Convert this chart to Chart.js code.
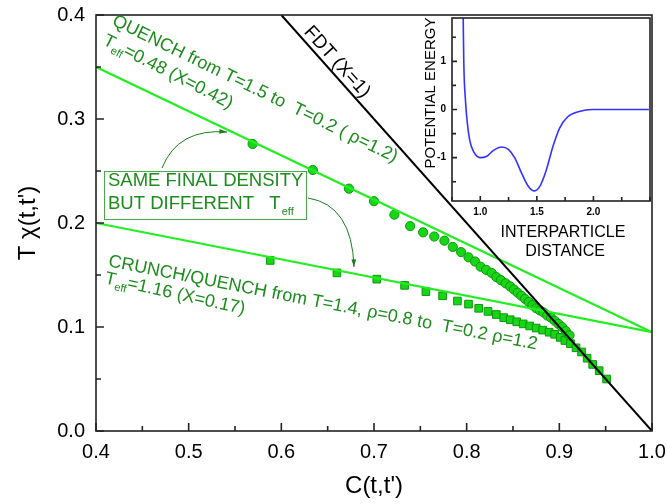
<!DOCTYPE html>
<html>
<head>
<meta charset="utf-8">
<script src="https://cdn.jsdelivr.net/npm/chart.js@4.4.0/dist/chart.umd.min.js"></script>
<style>
    html, body { margin: 0; padding: 0; background: #fff; }
    #wrap { position: relative; width: 668px; height: 504px; }
    #mainChart { position: absolute; left: 0; top: 0; }
    #insetChart { position: absolute; left: 410px; top: 0; }
</style>
</head>
<body>
<div id="wrap">
    <canvas id="mainChart" width="668" height="504"></canvas>
    <canvas id="insetChart" width="258" height="264"></canvas>
</div>
<script>
// quench T=1.5 -> T=0.2 (circles)
const quenchC = [0.569, 0.634, 0.673, 0.700, 0.722, 0.739, 0.753, 0.765, 0.776, 0.785, 0.794, 0.802,
    0.809, 0.815, 0.821, 0.827, 0.832, 0.837, 0.842, 0.847, 0.851, 0.855, 0.859, 0.863, 0.867, 0.871,
    0.875, 0.879, 0.883, 0.887, 0.891, 0.895, 0.899, 0.903, 0.907, 0.911];
const quenchT = [0.276, 0.251, 0.233, 0.221, 0.208, 0.197, 0.191, 0.187, 0.183, 0.177, 0.172, 0.167,
    0.163, 0.158, 0.155, 0.152, 0.148, 0.145, 0.142, 0.139, 0.136, 0.133, 0.130, 0.127, 0.124, 0.121,
    0.118, 0.116, 0.114, 0.111, 0.109, 0.106, 0.103, 0.100, 0.096, 0.092];

// crunch/quench (squares)
const crunchC = [0.588, 0.660, 0.703, 0.733, 0.756, 0.774, 0.790, 0.802, 0.813, 0.823, 0.832, 0.840,
    0.847, 0.854, 0.861, 0.868, 0.875, 0.882, 0.889, 0.895, 0.901, 0.906, 0.912, 0.918, 0.924, 0.930,
    0.936, 0.943, 0.951];
const crunchT = [0.164, 0.152, 0.146, 0.140, 0.134, 0.130, 0.125, 0.122, 0.118, 0.115, 0.112, 0.109,
    0.107, 0.105, 0.103, 0.101, 0.099, 0.097, 0.095, 0.093, 0.090, 0.087, 0.084, 0.080, 0.076, 0.070,
    0.064, 0.058, 0.050];

// straight lines
const fitQuenchC = [0.4, 1.0];
const fitQuenchT = [0.35, 0.095];
const fitCrunchC = [0.4, 1.0];
const fitCrunchT = [0.2, 0.095];
const fdtC = [0.6, 1.0];
const fdtT = [0.4, 0.0];

const xTicks = [0.4, 0.5, 0.6, 0.7, 0.8, 0.9, 1.0];
const yTicks = [0.0, 0.1, 0.2, 0.3, 0.4];

// inset: pair potential
const distance = [0.849, 0.854, 0.869, 0.883, 0.907, 0.942, 1.0, 1.058, 1.117, 1.19, 1.248, 1.306,
    1.365, 1.423, 1.472, 1.525, 1.583, 1.642, 1.70, 1.773, 1.875, 1.99, 2.49];
const energy = [1.92, 1.0, 0.19, -0.22, -0.64, -0.88, -1.0, -0.97, -0.85, -0.78, -0.83, -1.01,
    -1.32, -1.59, -1.69, -1.60, -1.26, -0.77, -0.39, -0.15, -0.04, 0.0, 0.0];
const insetXTicks = [1.0, 1.5, 2.0];
const insetYTicks = [-1, 0, 1];

const FONT = '"Liberation Sans", Arial, sans-serif';
const TEXT_GREEN = '#1c8c1c';

function pts(xs, ys) {
    return xs.map((x, i) => ({ x: x, y: ys[i] }));
}

// 去掉刻度标签溢出带来的额外边距
function noPad(s) {
    s.paddingTop = 0; s.paddingBottom = 0;
    s.paddingLeft = 0; s.paddingRight = 0;
}

// 内向刻度 + 边框
function frameTicks(majorLen, minorLen, lw) {
    return {
        id: 'frameTicks',
        afterDraw(chart) {
            const { ctx, chartArea: a, scales } = chart;
            ctx.save();
            ctx.strokeStyle = '#222';
            ctx.lineWidth = lw;
            ctx.strokeRect(a.left, a.top, a.right - a.left, a.bottom - a.top);
            ctx.beginPath();
            const xs = scales.x, ys = scales.y;
            const xv = xs.ticks.map(t => t.value);
            const yv = ys.ticks.map(t => t.value);
            const xStep = xv[1] - xv[0], yStep = yv[1] - yv[0];
            const x0 = xv[0] - Math.floor((xv[0] - xs.min) / (xStep / 2) + 1e-6) * xStep / 2;
            const y0 = yv[0] - Math.floor((yv[0] - ys.min) / (yStep / 2) + 1e-6) * yStep / 2;
            for (let v = x0; v <= xs.max + 1e-9; v += xStep / 2) {
                const isMajor = xv.some(m => Math.abs(m - v) < 1e-6);
                const px = xs.getPixelForValue(v);
                ctx.moveTo(px, a.bottom);
                ctx.lineTo(px, a.bottom - (isMajor ? majorLen : minorLen));
            }
            for (let v = y0; v <= ys.max + 1e-9; v += yStep / 2) {
                const isMajor = yv.some(m => Math.abs(m - v) < 1e-6);
                const py = ys.getPixelForValue(v);
                ctx.moveTo(a.left, py);
                ctx.lineTo(a.left + (isMajor ? majorLen : minorLen), py);
            }
            ctx.stroke();
            ctx.restore();
        }
    };
}

function richText(ctx, parts, size) {
    const big = size + 'px ' + FONT;
    const small = Math.round(size * 0.62) + 'px ' + FONT;
    let w = 0;
    parts.forEach(([t, sub]) => { ctx.font = sub ? small : big; w += ctx.measureText(t).width; });
    let x = -w / 2;
    parts.forEach(([t, sub]) => {
        ctx.font = sub ? small : big;
        ctx.fillText(t, x, sub ? size * 0.35 : 0);
        x += ctx.measureText(t).width;
    });
}

function arrow(ctx, x0, y0, cx, cy, x1, y1) {
    ctx.beginPath();
    ctx.moveTo(x0, y0);
    ctx.quadraticCurveTo(cx, cy, x1, y1);
    ctx.stroke();
    const ang = Math.atan2(y1 - cy, x1 - cx);
    ctx.beginPath();
    ctx.moveTo(x1, y1);
    ctx.lineTo(x1 - 8 * Math.cos(ang - 0.3), y1 - 8 * Math.sin(ang - 0.3));
    ctx.lineTo(x1 - 8 * Math.cos(ang + 0.3), y1 - 8 * Math.sin(ang + 0.3));
    ctx.closePath();
    ctx.fill();
}

const notes = [
    { parts: [['QUENCH from T=1.5 to  T=0.2 ( \u03c1=1.2)', false]], x: 255, y: 89, rot: 26, size: 18, color: TEXT_GREEN },
    { parts: [['T', false], ['eff', true], ['=0.48 (X=0.42)', false]], x: 168, y: 72, rot: 27, size: 18, color: TEXT_GREEN },
    { parts: [['CRUNCH/QUENCH from T=1.4, \u03c1=0.8 to  T=0.2 \u03c1=1.2', false]], x: 323, y: 303, rot: 11, size: 18, color: TEXT_GREEN },
    { parts: [['T', false], ['eff', true], ['=1.16 (X=0.17)', false]], x: 175, y: 294, rot: 12.5, size: 18, color: TEXT_GREEN },
    { parts: [['FDT (X=1)', false]], x: 337, y: 62, rot: 48, size: 19, color: '#000' }
];

const annotations = {
    id: 'annotations',
    afterDraw(chart) {
        const ctx = chart.ctx;
        ctx.save();
        ctx.textBaseline = 'middle';
        notes.forEach(n => {
            ctx.save();
            ctx.translate(n.x, n.y);
            ctx.rotate(n.rot * Math.PI / 180);
            ctx.fillStyle = n.color;
            richText(ctx, n.parts, n.size);
            ctx.restore();
        });
        // 方框
        ctx.strokeStyle = '#4aa84a';
        ctx.lineWidth = 1;
        ctx.strokeRect(104.5, 171.5, 202, 48);
        ctx.fillStyle = TEXT_GREEN;
        ctx.textBaseline = 'alphabetic';
        ctx.textAlign = 'left';
        ctx.font = '18.5px ' + FONT;
        ctx.fillText('SAME FINAL DENSITY', 108, 186);
        const line2 = 'BUT DIFFERENT   T';
        ctx.fillText(line2, 108, 209);
        const w2 = ctx.measureText(line2).width;
        ctx.font = '11px ' + FONT;
        ctx.fillText('eff', 108 + w2 + 1, 215);
        // 箭头
        ctx.strokeStyle = '#1c7c1c';
        ctx.fillStyle = '#1c7c1c';
        arrow(ctx, 162, 168, 178, 128, 227, 132);
        arrow(ctx, 308, 198, 352, 205, 354, 267);
        ctx.restore();
    }
};

new Chart(document.getElementById('mainChart'), {
    type: 'scatter',
    data: {
        datasets: [
            {
                data: pts(fdtC, fdtT), showLine: true, pointRadius: 0,
                borderColor: '#000', borderWidth: 2
            },
            {
                data: pts(fitQuenchC, fitQuenchT), showLine: true, pointRadius: 0,
                borderColor: '#22ee22', borderWidth: 2.2
            },
            {
                data: pts(fitCrunchC, fitCrunchT), showLine: true, pointRadius: 0,
                borderColor: '#22ee22', borderWidth: 2.2
            },
            {
                data: pts(quenchC, quenchT), pointStyle: 'circle', pointRadius: 4.6,
                backgroundColor: '#16d616', borderColor: '#0e960e', borderWidth: 1
            },
            {
                data: pts(crunchC, crunchT), pointStyle: 'rect', pointRadius: 5.4,
                backgroundColor: '#16d616', borderColor: '#0e960e', borderWidth: 1
            }
        ]
    },
    options: {
        responsive: false,
        animation: false,
        devicePixelRatio: 1,
        layout: { padding: { left: 0, right: 16, top: 15, bottom: 0 } },
        plugins: { legend: { display: false }, tooltip: { enabled: false } },
        scales: {
            x: {
                type: 'linear', min: 0.4, max: 1.0,
                afterBuildTicks: s => { s.ticks = xTicks.map(v => ({ value: v })); },
                afterFit: s => { s.height = 73; noPad(s); },
                grid: { display: false, drawTicks: false },
                border: { display: false },
                ticks: {
                    padding: 9, color: '#000', font: { family: FONT, size: 20 },
                    callback: v => v.toFixed(1)
                },
                title: {
                    display: true, text: 'C(t,t\')', color: '#000',
                    font: { family: FONT, size: 24 }, padding: { top: 0, bottom: 3 }
                }
            },
            y: {
                type: 'linear', min: 0, max: 0.4,
                afterBuildTicks: s => { s.ticks = yTicks.map(v => ({ value: v })); },
                afterFit: s => { s.width = 96; noPad(s); },
                grid: { display: false, drawTicks: false },
                border: { display: false },
                ticks: {
                    padding: 11, color: '#000', font: { family: FONT, size: 20 },
                    callback: v => v.toFixed(1)
                },
                title: {
                    display: true, text: 'T \u03c7(t,t\')', color: '#000',
                    font: { family: FONT, size: 24 }, padding: { top: 14, bottom: 0 }
                }
            }
        }
    },
    plugins: [frameTicks(8, 5, 1.6), annotations]
});

// 插图标题
const insetLabels = {
    id: 'insetLabels',
    afterDraw(chart) {
        const ctx = chart.ctx;
        ctx.save();
        ctx.fillStyle = '#000';
        ctx.textAlign = 'center';
        ctx.textBaseline = 'alphabetic';
        ctx.font = '16px ' + FONT;
        ctx.fillText('INTERPARTICLE', 153, 237);
        ctx.fillText('DISTANCE', 155, 256);
        ctx.translate(25, 93);
        ctx.rotate(-Math.PI / 2);
        ctx.font = '15px ' + FONT;
        ctx.fillText('POTENTIAL ENERGY', 0, 0);
        ctx.restore();
    }
};

new Chart(document.getElementById('insetChart'), {
    type: 'scatter',
    data: {
        datasets: [{
            data: pts(distance, energy), showLine: true, pointRadius: 0,
            borderColor: '#3333ff', borderWidth: 1.6, cubicInterpolationMode: 'monotone'
        }]
    },
    options: {
        responsive: false,
        animation: false,
        devicePixelRatio: 1,
        layout: { padding: { left: 0, right: 18, top: 18, bottom: 0 } },
        plugins: { legend: { display: false }, tooltip: { enabled: false } },
        scales: {
            x: {
                type: 'linear', min: 0.75, max: 2.5,
                afterBuildTicks: s => { s.ticks = insetXTicks.map(v => ({ value: v })); },
                afterFit: s => { s.height = 63; noPad(s); },
                grid: { display: false, drawTicks: false },
                border: { display: false },
                ticks: {
                    padding: 5, color: '#000', font: { family: FONT, size: 10, weight: 'bold' },
                    callback: v => v.toFixed(1)
                }
            },
            y: {
                type: 'linear', min: -1.9, max: 1.9,
                afterBuildTicks: s => { s.ticks = insetYTicks.map(v => ({ value: v })); },
                afterFit: s => { s.width = 42; noPad(s); },
                grid: { display: false, drawTicks: false },
                border: { display: false },
                ticks: {
                    padding: 6, color: '#000', font: { family: FONT, size: 10, weight: 'bold' },
                    callback: v => String(v)
                }
            }
        }
    },
    plugins: [frameTicks(5, 4, 1.6), insetLabels]
});
</script>
</body>
</html>
